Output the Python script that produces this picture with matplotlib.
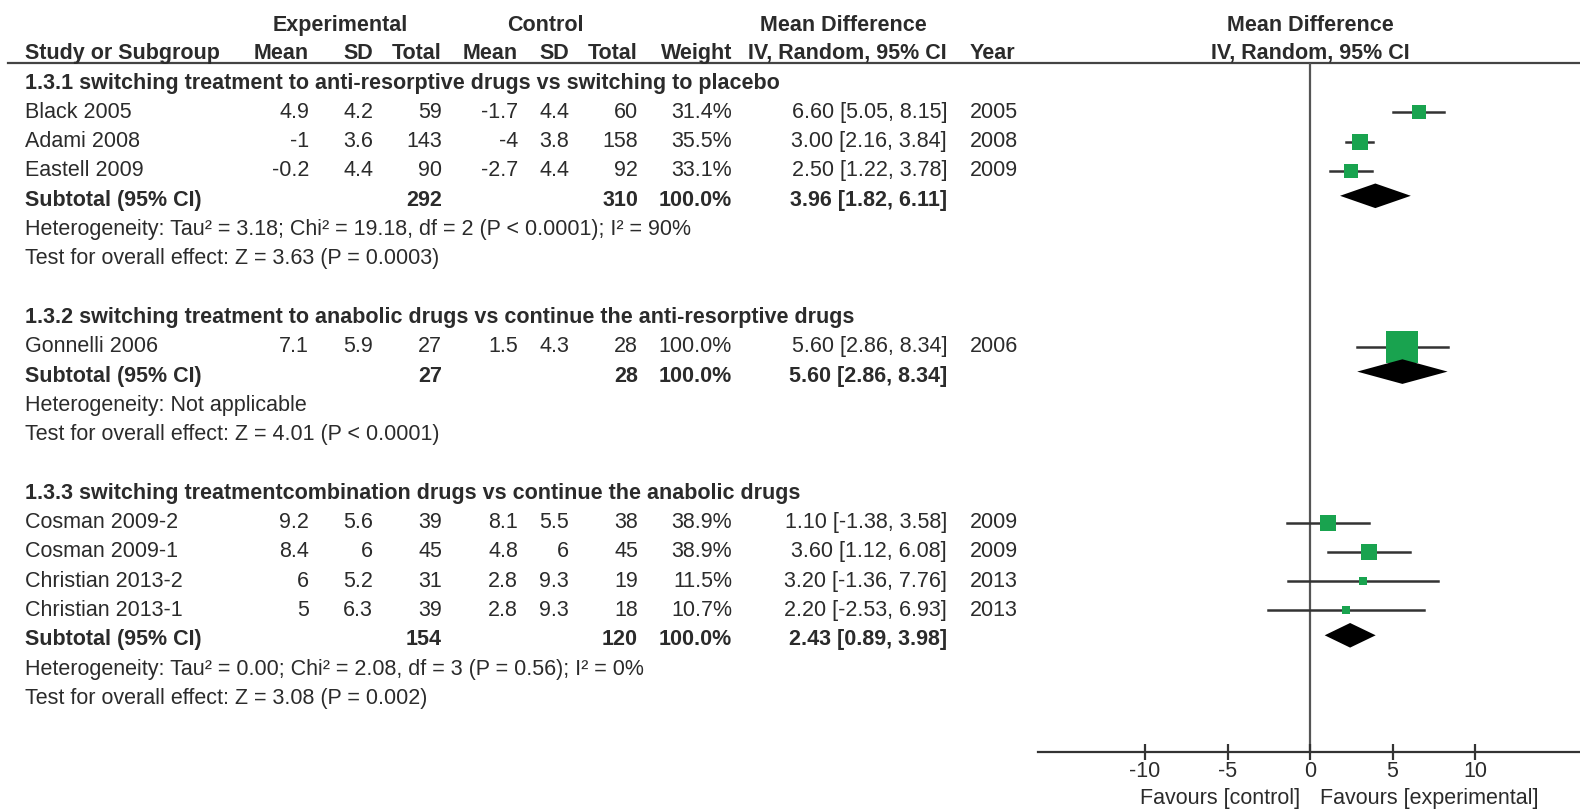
import numpy as np
from matplotlib import pyplot as plt

plt.rcParams['font.family'] = ['Liberation Sans', 'DejaVu Sans']

# study level data
studies = ["Black 2005", "Adami 2008", "Eastell 2009", "Gonnelli 2006",
           "Cosman 2009-2", "Cosman 2009-1", "Christian 2013-2", "Christian 2013-1"]
study_group = [0, 0, 0, 1, 2, 2, 2, 2]
exp_mean = [4.9, -1, -0.2, 7.1, 9.2, 8.4, 6, 5]
exp_sd = [4.2, 3.6, 4.4, 5.9, 5.6, 6, 5.2, 6.3]
exp_n = [59, 143, 90, 27, 39, 45, 31, 39]
ctl_mean = [-1.7, -4, -2.7, 1.5, 8.1, 4.8, 2.8, 2.8]
ctl_sd = [4.4, 3.8, 4.4, 4.3, 5.5, 6, 9.3, 9.3]
ctl_n = [60, 158, 92, 28, 38, 45, 19, 18]
weight = [31.4, 35.5, 33.1, 100.0, 38.9, 38.9, 11.5, 10.7]
md = [6.60, 3.00, 2.50, 5.60, 1.10, 3.60, 3.20, 2.20]
ci_lo = [5.05, 2.16, 1.22, 2.86, -1.38, 1.12, -1.36, -2.53]
ci_hi = [8.15, 3.84, 3.78, 8.34, 3.58, 6.08, 7.76, 6.93]
year = [2005, 2008, 2009, 2006, 2009, 2009, 2013, 2013]

# subgroup data
group_titles = ["1.3.1 switching treatment to anti-resorptive drugs vs switching to placebo",
                "1.3.2 switching treatment to anabolic drugs vs continue the anti-resorptive drugs",
                "1.3.3 switching treatmentcombination drugs vs continue the anabolic drugs"]
sub_exp_n = [292, 27, 154]
sub_ctl_n = [310, 28, 120]
sub_weight = [100.0, 100.0, 100.0]
sub_md = [3.96, 5.60, 2.43]
sub_lo = [1.82, 2.86, 0.89]
sub_hi = [6.11, 8.34, 3.98]
het_text = ["Heterogeneity: Tau\u00b2 = 3.18; Chi\u00b2 = 19.18, df = 2 (P < 0.0001); I\u00b2 = 90%",
            "Heterogeneity: Not applicable",
            "Heterogeneity: Tau\u00b2 = 0.00; Chi\u00b2 = 2.08, df = 3 (P = 0.56); I\u00b2 = 0%"]
effect_text = ["Test for overall effect: Z = 3.63 (P = 0.0003)",
               "Test for overall effect: Z = 4.01 (P < 0.0001)",
               "Test for overall effect: Z = 3.08 (P = 0.002)"]

ticks = [-10, -5, 0, 5, 10]

W, H = 1580, 811
row0, rowh = 83, 29.3
fs = 15.5
tc = '#2b2b2b'
green = '#19a34f'


def row_of(py):
    return (py - row0) / rowh


fig = plt.figure(figsize=(W / 100, H / 100), dpi=100)
tab = fig.add_axes([0, 0, 1, 1])
tab.set_xlim(0, W)
tab.set_ylim(row_of(H), row_of(0))
tab.axis('off')

# forest axes: 0 at x=1310, 16.5 px per unit
px0, ppu = 1310, 16.5
fx0, fx1 = 1038, W
fy0, fy1 = 63, 752
fax = fig.add_axes([fx0 / W, 1 - fy1 / H, (fx1 - fx0) / W, (fy1 - fy0) / H])
fax.set_xlim((fx0 - px0) / ppu, (fx1 - px0) / ppu)
fax.set_ylim(row_of(fy1), row_of(fy0))
fax.patch.set_alpha(0)
for s in ['top', 'right', 'left']:
    fax.spines[s].set_visible(False)
fax.spines['bottom'].set_color('#333333')
fax.spines['bottom'].set_linewidth(1.6)
fax.set_yticks([])
fax.set_xticks(ticks)
fax.set_xticklabels([str(t) for t in ticks])
fax.tick_params(axis='x', direction='inout', length=11, width=1.6, color='#333333',
                labelsize=fs, labelcolor=tc, pad=1)
fax.axvline(0, color='#555555', lw=1.6, zorder=1)

# column positions (right edges)
cols = {'em': 309, 'esd': 373, 'en': 442, 'cm': 518, 'csd': 569, 'cn': 638,
        'w': 732, 'ci': 947, 'yr': 970}


def put(x, r, s, ha='right', bold=False):
    tab.text(x, r, s, ha=ha, va='center', fontsize=fs, color=tc,
             fontweight='bold' if bold else 'normal')


# headers
hr1, hr2 = row_of(25), row_of(53)
put(340, hr1, "Experimental", ha='center', bold=True)
put(545, hr1, "Control", ha='center', bold=True)
put(843, hr1, "Mean Difference", ha='center', bold=True)
put(25, hr2, "Study or Subgroup", ha='left', bold=True)
put(cols['em'], hr2, "Mean", bold=True)
put(cols['esd'], hr2, "SD", bold=True)
put(cols['en'], hr2, "Total", bold=True)
put(cols['cm'], hr2, "Mean", bold=True)
put(cols['csd'], hr2, "SD", bold=True)
put(cols['cn'], hr2, "Total", bold=True)
put(cols['w'], hr2, "Weight", bold=True)
put(cols['ci'], hr2, "IV, Random, 95% CI", bold=True)
put(cols['yr'], hr2, "Year", ha='left', bold=True)
tab.axhline(row_of(63), xmin=8 / W, xmax=1, color='#444444', lw=1.6)

fax.text(0, hr1, "Mean Difference", ha='center', va='center', fontsize=fs,
         color=tc, fontweight='bold', clip_on=False)
fax.text(0, hr2, "IV, Random, 95% CI", ha='center', va='center', fontsize=fs,
         color=tc, fontweight='bold', clip_on=False)

r = 0
for g in range(len(group_titles)):
    put(25, r, group_titles[g], ha='left', bold=True)
    r += 1
    for k in range(len(studies)):
        if study_group[k] != g:
            continue
        put(25, r, studies[k], ha='left')
        put(cols['em'], r, f"{exp_mean[k]:g}")
        put(cols['esd'], r, f"{exp_sd[k]:g}")
        put(cols['en'], r, str(exp_n[k]))
        put(cols['cm'], r, f"{ctl_mean[k]:g}")
        put(cols['csd'], r, f"{ctl_sd[k]:g}")
        put(cols['cn'], r, str(ctl_n[k]))
        put(cols['w'], r, f"{weight[k]:.1f}%")
        put(cols['ci'], r, f"{md[k]:.2f} [{ci_lo[k]:.2f}, {ci_hi[k]:.2f}]")
        put(cols['yr'], r, str(year[k]), ha='left')
        fax.plot([ci_lo[k], ci_hi[k]], [r, r], color='#333333', lw=1.8, zorder=2)
        side = (6 + 0.26 * weight[k]) * 0.72
        fax.plot(md[k], r, marker='s', ms=side, mew=0, color=green, zorder=3)
        r += 1
    put(25, r, "Subtotal (95% CI)", ha='left', bold=True)
    put(cols['en'], r, str(sub_exp_n[g]), bold=True)
    put(cols['cn'], r, str(sub_ctl_n[g]), bold=True)
    put(cols['w'], r, f"{sub_weight[g]:.1f}%", bold=True)
    put(cols['ci'], r, f"{sub_md[g]:.2f} [{sub_lo[g]:.2f}, {sub_hi[g]:.2f}]", bold=True)
    dh = 0.42
    fax.fill([sub_lo[g], sub_md[g], sub_hi[g], sub_md[g]],
             [r - 0.15, r - 0.15 - dh, r - 0.15, r - 0.15 + dh], color='black', lw=0, zorder=3)
    r += 1
    put(25, r, het_text[g], ha='left')
    r += 1
    put(25, r, effect_text[g], ha='left')
    r += 2

fr = row_of(798)
fax.text(-0.6, fr, "Favours [control]", ha='right', va='center', fontsize=fs,
         color=tc, clip_on=False)
fax.text(0.6, fr, "Favours [experimental]", ha='left', va='center', fontsize=fs,
         color=tc, clip_on=False)

plt.savefig("out.png", dpi=100)
